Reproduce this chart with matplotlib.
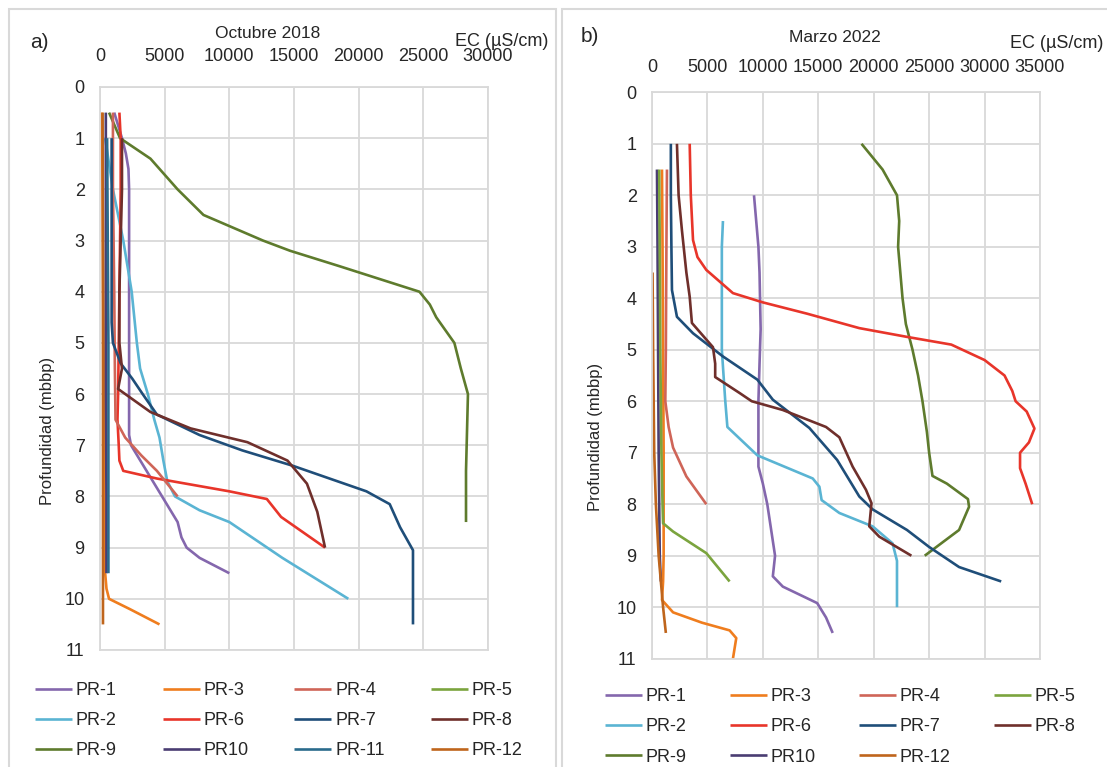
import matplotlib
matplotlib.use("Agg")
import matplotlib.pyplot as plt
from matplotlib.patches import Rectangle

plt.rcParams['font.family'] = ['Liberation Sans', 'DejaVu Sans']

wells = ['PR-1', 'PR-2', 'PR-3', 'PR-4', 'PR-5', 'PR-6', 'PR-7', 'PR-8', 'PR-9', 'PR10', 'PR-11', 'PR-12']
colours = {'PR-1': '#8467ad', 'PR-2': '#5ab4d3', 'PR-3': '#ef7d1e', 'PR-4': '#cf6558', 'PR-5': '#7ba43e',
           'PR-6': '#e8352a', 'PR-7': '#1f4e79', 'PR-8': '#6f2f2b', 'PR-9': '#5e7b2d', 'PR10': '#4a3d72',
           'PR-11': '#2a6b8c', 'PR-12': '#bf651c'}

# a) Octubre 2018 -- depth (mbbp), EC (uS/cm)
d18_pr1 = [0.5, 1.0, 1.3, 1.6, 2, 3, 4, 5, 6, 6.8, 7.0, 7.5, 8.0, 8.5, 8.8, 9.0, 9.2, 9.5]
ec18_pr1 = [1100, 1700, 2000, 2200, 2250, 2250, 2250, 2250, 2250, 2250, 2400, 3600, 4800, 6000, 6300, 6700, 7700, 10000]
d18_pr2 = [1.0, 1.5, 2, 3, 4, 5, 5.5, 6, 6.5, 6.85, 7.3, 7.7, 8.0, 8.27, 8.5, 9.2, 10.0]
ec18_pr2 = [400, 700, 1000, 1800, 2450, 2850, 3100, 3700, 4200, 4600, 4900, 5200, 5800, 7700, 10000, 14100, 19200]
d18_pr3 = [0.5, 2, 4, 6, 8, 9.5, 9.8, 10.0, 10.2, 10.5]
ec18_pr3 = [150, 200, 250, 300, 350, 400, 500, 700, 2300, 4600]
d18_pr4 = [0.5, 2, 4, 5.5, 6.5, 6.85, 7.2, 7.5, 8.0]
ec18_pr4 = [1000, 1000, 1100, 1150, 1200, 1950, 3200, 4400, 6000]
d18_pr5 = []
ec18_pr5 = []
d18_pr6 = [0.5, 1, 2, 3, 4, 5, 6, 6.5, 7.0, 7.3, 7.5, 7.65, 7.9, 8.05, 8.4, 9.0]
ec18_pr6 = [1500, 1600, 1600, 1550, 1500, 1450, 1400, 1350, 1450, 1500, 1800, 4400, 10000, 12900, 14000, 17400]
d18_pr7 = [1, 2, 3, 4, 4.6, 5.0, 5.4, 5.7, 6.0, 6.4, 6.8, 7.1, 7.4, 7.9, 8.15, 8.6, 9.05, 10.5]
ec18_pr7 = [900, 900, 900, 900, 900, 1000, 1600, 2500, 3300, 4400, 7700, 11000, 14900, 20600, 22400, 23200, 24200, 24200]
d18_pr8 = [1, 2, 3, 4, 5, 5.5, 5.9, 6.35, 6.67, 6.94, 7.3, 7.75, 8.3, 9.0]
ec18_pr8 = [1700, 1700, 1600, 1500, 1500, 1700, 1400, 3900, 7000, 11400, 14500, 16000, 16800, 17400]
d18_pr9 = [0.5, 1, 1.4, 2, 2.5, 3, 3.2, 3.5, 4, 4.25, 4.5, 5, 5.5, 6, 6.5, 7, 7.5, 8, 8.5]
ec18_pr9 = [700, 1550, 3900, 6000, 8000, 12600, 14700, 18500, 24700, 25500, 26000, 27400, 27900, 28450, 28400, 28350, 28300, 28300, 28300]
d18_pr10 = [0.5, 2, 4, 6, 8, 9.5]
ec18_pr10 = [450, 450, 450, 450, 500, 500]
d18_pr11 = [1, 3, 5, 7, 9.5]
ec18_pr11 = [550, 600, 650, 650, 650]
d18_pr12 = [0.5, 3, 6, 9, 10.5]
ec18_pr12 = [200, 220, 230, 230, 230]

# b) Marzo 2022
d22_pr1 = [2, 3, 3.5, 4.6, 5.27, 6, 7.27, 7.6, 8, 9, 9.4, 9.6, 9.92, 10.2, 10.5]
ec22_pr1 = [9200, 9600, 9700, 9800, 9700, 9600, 9600, 10000, 10400, 11100, 10900, 11800, 14900, 15700, 16300]
d22_pr2 = [2.5, 3, 4, 5, 5.97, 6.5, 7.05, 7.5, 7.66, 7.92, 8.17, 8.43, 8.76, 9.1, 10]
ec22_pr2 = [6400, 6300, 6300, 6300, 6600, 6800, 9500, 14500, 15100, 15300, 16900, 19900, 21700, 22100, 22100]
d22_pr3 = [1.5, 3, 5, 7, 9, 9.5, 9.86, 10.1, 10.3, 10.45, 10.6, 11.0]
ec22_pr3 = [900, 950, 1000, 1050, 1050, 1000, 900, 1900, 4500, 7000, 7600, 7300]
d22_pr4 = [1.5, 3, 5, 6, 6.5, 6.9, 7.46, 8.0]
ec22_pr4 = [1350, 1300, 1250, 1200, 1500, 1900, 3100, 4900]
d22_pr5 = [1.5, 3, 5, 7, 8, 8.37, 8.53, 8.95, 9.5]
ec22_pr5 = [650, 700, 750, 850, 950, 1000, 1900, 4900, 7000]
d22_pr6 = [1, 2, 2.87, 3.2, 3.45, 3.9, 4.08, 4.3, 4.58, 4.75, 4.9, 5.2, 5.5, 5.8, 6.0, 6.2, 6.53, 6.8, 7.0, 7.3, 7.6, 8.0]
ec22_pr6 = [3400, 3500, 3700, 4100, 4900, 7300, 10000, 14000, 18700, 23000, 27000, 30000, 31800, 32500, 32800, 33800,
            34500, 34000, 33200, 33200, 33700, 34300]
d22_pr7 = [1, 2, 3, 3.84, 4.36, 4.68, 5.13, 5.58, 5.97, 6.52, 7.14, 7.85, 8.1, 8.5, 8.83, 9.22, 9.5]
ec22_pr7 = [1700, 1700, 1750, 1800, 2250, 3700, 6400, 9500, 10900, 14200, 16700, 18700, 19900, 23000, 25000, 27700, 31500]
d22_pr8 = [1, 2, 2.68, 3.5, 3.97, 4.48, 4.95, 5.27, 5.53, 5.84, 6.0, 6.17, 6.5, 6.7, 7.27, 7.72, 7.98, 8.43, 8.63, 9.0]
ec22_pr8 = [2250, 2400, 2700, 3100, 3400, 3600, 5500, 5700, 5700, 7900, 9000, 11800, 15700, 16900, 18100, 19300, 19800,
            19600, 20500, 23400]
d22_pr9 = [1, 1.5, 2, 2.5, 3, 4, 4.5, 5, 5.5, 6, 6.6, 7.0, 7.45, 7.6, 7.9, 8.05, 8.5, 9.0]
ec22_pr9 = [18900, 20800, 22100, 22300, 22200, 22600, 22900, 23500, 24000, 24400, 24800, 25000, 25300, 26600, 28500,
            28600, 27700, 24600]
d22_pr10 = [1.5, 3, 5, 7, 9, 9.5]
ec22_pr10 = [450, 500, 550, 600, 700, 800]
d22_pr12 = [3.5, 5, 7, 8, 9, 9.5, 10, 10.5]
ec22_pr12 = [50, 100, 200, 350, 600, 800, 1000, 1250]

series18 = {'PR-1': (d18_pr1, ec18_pr1), 'PR-2': (d18_pr2, ec18_pr2), 'PR-3': (d18_pr3, ec18_pr3),
            'PR-4': (d18_pr4, ec18_pr4), 'PR-5': (d18_pr5, ec18_pr5), 'PR-6': (d18_pr6, ec18_pr6),
            'PR-7': (d18_pr7, ec18_pr7), 'PR-8': (d18_pr8, ec18_pr8), 'PR-9': (d18_pr9, ec18_pr9),
            'PR10': (d18_pr10, ec18_pr10), 'PR-11': (d18_pr11, ec18_pr11), 'PR-12': (d18_pr12, ec18_pr12)}
series22 = {'PR-1': (d22_pr1, ec22_pr1), 'PR-2': (d22_pr2, ec22_pr2), 'PR-3': (d22_pr3, ec22_pr3),
            'PR-4': (d22_pr4, ec22_pr4), 'PR-5': (d22_pr5, ec22_pr5), 'PR-6': (d22_pr6, ec22_pr6),
            'PR-7': (d22_pr7, ec22_pr7), 'PR-8': (d22_pr8, ec22_pr8), 'PR-9': (d22_pr9, ec22_pr9),
            'PR10': (d22_pr10, ec22_pr10), 'PR-12': (d22_pr12, ec22_pr12)}

# legend order, column by column (4 columns)
order18 = ['PR-1', 'PR-2', 'PR-9', 'PR-3', 'PR-6', 'PR10', 'PR-4', 'PR-7', 'PR-11', 'PR-5', 'PR-8', 'PR-12']
order22 = ['PR-1', 'PR-2', 'PR-9', 'PR-3', 'PR-6', 'PR10', 'PR-4', 'PR-7', 'PR-12', 'PR-5', 'PR-8']

W, H = 1107, 767
fig = plt.figure(figsize=(W / 100, H / 100), dpi=100)
txt = '#262626'
grid = '#d9d9d9'

# chart area boxes
fig.patches.append(Rectangle((9 / W, -0.05), (556 - 9) / W, 1 - 9 / H + 0.05, transform=fig.transFigure,
                             fill=False, edgecolor=grid, linewidth=1.5))
fig.patches.append(Rectangle((562 / W, -0.05), 0.5, 1 - 9 / H + 0.05, transform=fig.transFigure,
                             fill=False, edgecolor=grid, linewidth=1.5))


def panel(rect, series, order, xmax, tickpad, ylab_xy, legend_xy, labelspacing, colspacing):
    ax = fig.add_axes(rect)
    for name in order:
        d, ec = series[name]
        ax.plot(ec, d, color=colours[name], linewidth=1.9, label=name, solid_capstyle='butt')
    ax.set_xlim(0, xmax)
    ax.set_ylim(11, 0)
    ax.set_xticks(range(0, xmax + 1, 5000))
    ax.set_yticks(range(0, 12))
    ax.xaxis.tick_top()
    ax.tick_params(axis='both', length=0, labelsize=13, colors=txt)
    ax.tick_params(axis='x', pad=tickpad)
    ax.tick_params(axis='y', pad=11)
    ax.grid(True, color=grid, linewidth=1.3)
    ax.set_axisbelow(True)
    for s in ax.spines.values():
        s.set_color(grid)
        s.set_linewidth(1.3)
    ax.set_ylabel('Profundidad (mbbp)', fontsize=12, color=txt)
    ax.yaxis.set_label_coords(*ylab_xy)
    ax.legend(loc='upper left', bbox_to_anchor=(legend_xy[0] / W, 1 - legend_xy[1] / H),
              bbox_transform=fig.transFigure, ncol=4, frameon=False, fontsize=13, handlelength=2.05,
              handletextpad=0.2, columnspacing=colspacing, labelspacing=labelspacing, borderpad=0,
              borderaxespad=0, labelcolor=txt)
    return ax


panel([100 / W, 1 - 650 / H, 388 / W, 563 / H], series18, order18, 30000, 16,
      (-0.116, 0.389), (35, 682), 0.73, 2.55)
panel([652 / W, 1 - 658.7 / H, 388 / W, 566.4 / H], series22, order22, 35000, 12,
      (-0.126, 0.391), (605, 688), 0.74, 2.4)

fig.text(39 / W, 1 - 43 / H, 'a)', fontsize=15, color=txt, ha='center', va='center')
fig.text(268 / W, 1 - 34 / H, 'Octubre 2018', fontsize=12.5, color=txt, ha='center', va='center')
fig.text(548 / W, 1 - 41 / H, 'EC (µS/cm)', fontsize=13, color=txt, ha='right', va='center')

fig.text(590 / W, 1 - 37 / H, 'b)', fontsize=15, color=txt, ha='center', va='center')
fig.text(835 / W, 1 - 37 / H, 'Marzo 2022', fontsize=12.5, color=txt, ha='center', va='center')
fig.text(1103 / W, 1 - 43 / H, 'EC (µS/cm)', fontsize=13, color=txt, ha='right', va='center')

fig.savefig('out.png', dpi=100)
